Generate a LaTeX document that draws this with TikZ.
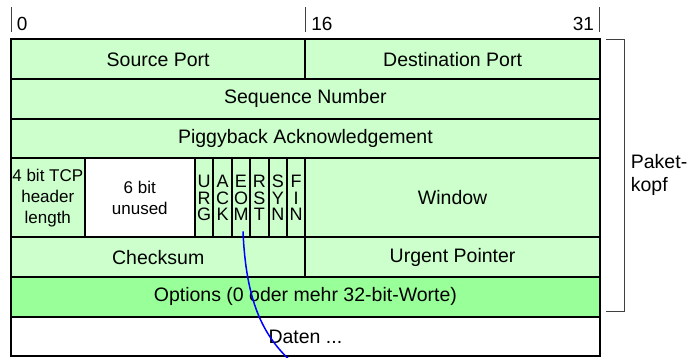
\documentclass[tikz,border=0pt]{standalone}
\usepackage{fontspec}
\setmainfont{Liberation Sans}
\usepackage{tikz}
\tikzstyle{packet} = [x = 18.4pt, y = -39.6pt]
\definecolor{headerColor}{RGB}{204,255,204}
\definecolor{optionColor}{RGB}{153,255,153}
\definecolor{markColor}{RGB}{64,64,64}
\tikzstyle{fieldStyle} = [draw=black, fill=headerColor, line width=2pt]
\tikzstyle{optionStyle} = [fieldStyle, fill=optionColor]
\tikzstyle{emptyStyle} = [fieldStyle, fill=white]
\tikzstyle{fieldText} = [midway, font=\fontsize{19.5}{23}\selectfont]
\tikzstyle{smallText} = [midway, align=center, font=\fontsize{17}{21}\selectfont]
\tikzstyle{flagText} = [midway, align=center, inner sep=0pt, font=\fontsize{18}{16.3}\selectfont]
\tikzstyle{markLine} = [color=markColor, line width=1pt]
\tikzstyle{markText} = [inner sep=2pt, font=\fontsize{19}{23}\selectfont]
\tikzstyle{pointerLine} = [color=blue, line width=1.5pt]
\newcommand{\wordField}[5]{\filldraw [fieldStyle] (#2, #3) rectangle + (#4, 1) node [fieldText] (#1) {#5};}
\newcommand{\optionField}[3]{\filldraw [optionStyle] (0, #2) rectangle + (32, 1) node [fieldText] (#1) {#3};}
\newcommand{\dataField}[3]{\filldraw [emptyStyle] (0, #2) rectangle + (32, 1) node [fieldText] (#1) {#3};}
\newcommand{\tallField}[5]{\filldraw [fieldStyle] (#2, #3) rectangle + (#4, 2) node [fieldText] (#1) {#5};}
\newcommand{\tallFieldSmall}[6]{\filldraw [#6] (#2, #3) rectangle + (#4, 2) node [smallText] (#1) {#5};}
\newcommand{\flagField}[3]{\filldraw [fieldStyle] (#2, 3) rectangle + (1, 2) node [flagText] (#1) {#3};}
\newcommand{\bitMark}[1]{\draw [markLine] (#1, -0.19) -- (#1, -0.82);}

\begin{document}
\begin{tikzpicture}[packet]
          \useasboundingbox (-11pt, 39.5pt) rectangle (682pt, -318.5pt);
          \foreach \markBit in {0,16,32} {
            \bitMark{\markBit}
          }
          \node [markText, anchor=west] (bitZero) at (0.2, -0.4) {0};
          \node [markText, anchor=west] (bitSixteen) at (16.2, -0.4) {16};
          \node [markText, anchor=east] (bitLast) at (31.8, -0.4) {31};

          \wordField{srcPort}{0}{0}{16}{Source Port}
          \wordField{dstPort}{16}{0}{16}{Destination Port}
          \wordField{seqNumber}{0}{1}{32}{Sequence Number}
          \wordField{ackNumber}{0}{2}{32}{Piggyback Acknowledgement}
          \tallFieldSmall{headerLength}{0}{3}{4}{4 bit TCP\\header\\length}{fieldStyle}
          \tallFieldSmall{unused}{4}{3}{6}{6 bit\\unused}{emptyStyle}
          \foreach \flagName/\flagLetters [count=\flagBit from 10] in {urg/U\\R\\G, ack/A\\C\\K, eom/E\\O\\M, rst/R\\S\\T, syn/S\\Y\\N, fin/F\\I\\N} {
            \flagField{\flagName}{\flagBit}{\flagLetters}
          }
          \tallField{window}{16}{3}{16}{Window}
          \wordField{checksum}{0}{5}{16}{Checksum}
          \wordField{urgPointer}{16}{5}{16}{Urgent Pointer}
          \optionField{options}{6}{Options (0 oder mehr 32-bit-Worte)}
          \dataField{data}{7}{Daten ...}

          \draw [markLine] (32.35, 0) -| (33.33, 6.86) -- (32.35, 6.86);
          \node [markText, anchor=west, align=left, font=\fontsize{19.5}{23}\selectfont] (headerLabel) at (33.57, 3.42) {Paket-\\kopf};

          \coordinate (pointerEnd) at (15.27, 8.15);
          \draw [pointerLine] ([xshift=2pt, yshift=-10pt]eom.south) .. controls (12.77, 6.58) and (13.64, 7.46) .. (pointerEnd);
        \end{tikzpicture}
\end{document}
